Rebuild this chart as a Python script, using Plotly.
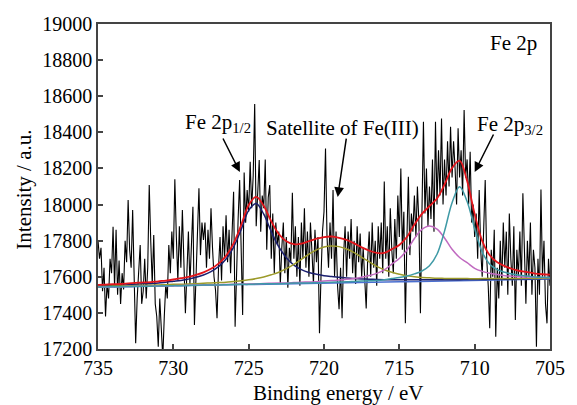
import numpy as np
import plotly.graph_objects as go

# ---- raw XPS counts (735.0 -> 705.0 eV, 0.1 eV step) ----
raw_counts = [
    17800, 17700, 17760, 17520, 17650, 17380, 17560, 17480, 17700, 17620,
    17877, 17540, 17860, 17500, 17690, 17450, 17620, 17530, 17800, 17680,
    18025, 17750, 17650, 17970, 17600, 17232, 17480, 17620, 17776, 17450,
    17520, 17700, 17480, 17650, 18108, 17800, 17560, 17831, 17450, 17380,
    17213, 17480, 17300, 17150, 17380, 17560, 17480, 17776, 17620, 17850,
    17700, 18140, 17820, 17580, 17880, 17650, 17970, 17720, 17398, 17620,
    17850, 17560, 17750, 17988, 17333, 17620, 17800, 18090, 17720, 17900,
    17804, 17900, 17650, 17860, 17700, 17979, 17760, 17600, 17527, 17370,
    17650, 17820, 17580, 17880, 17700, 17940, 17680, 17860, 17620, 17900,
    18071, 17323, 17700, 17920, 18136, 17820, 17388, 18178, 17900, 18080,
    17960, 18237, 17980, 18160, 18557, 17880, 18100, 18247, 17850, 18050,
    17980, 18250, 17750, 18040, 18108, 17700, 17950, 17620, 17900, 17780,
    17850, 17560, 17760, 17900, 17620, 17820, 17540, 17760, 17680, 18066,
    17700, 17880, 17600, 17820, 17550, 17900, 17700, 17980, 17650, 17850,
    17600, 17900, 17740, 17560, 17860, 17680, 17820, 17287, 17600, 17850,
    17960, 18311, 17820, 17650, 17900, 17700, 18080, 17600, 17850, 17550,
    17420, 17650, 17370, 17720, 17880, 17600, 17850, 17700, 17920, 17620,
    17800, 17560, 17880, 17680, 17840, 17600, 17760, 17560, 17425, 17700,
    17850, 17600, 17900, 17650, 17800, 17550, 17880, 17700, 17900, 17620,
    18127, 17700, 17880, 17600, 17980, 17750, 17620, 17920, 17700, 18050,
    17820, 18200, 17750, 17960, 17342, 17800, 18154, 17720, 17950, 17850,
    18050, 17820, 18100, 17900, 17398, 17950, 18459, 17950, 18200, 17880,
    18100, 17920, 18250, 17850, 18459, 18000, 18300, 18050, 18477, 18000,
    18250, 18050, 18350, 18100, 18431, 18150, 18350, 18200, 18000, 18422,
    18150, 18300, 18050, 18524, 18150, 18250, 18000, 18293, 17900, 18000,
    17820, 17950, 17700, 18080, 17750, 17600, 17850, 18136, 17700, 17550,
    17315, 17750, 17600, 17860, 17268, 17650, 17480, 17800, 17550, 17900,
    17650, 17850, 17500, 17950, 17700, 17550, 17880, 17360, 17750, 17600,
    17850, 17550, 18062, 17700, 17450, 17800, 17600, 17900, 17500, 17750,
    17650, 17213, 17700, 17500, 18084, 17600, 17800, 17450, 17342, 17700,
    17550,
]
raw_energy = np.round(735.0 - 0.1 * np.arange(len(raw_counts)), 1)

# ---- fitted curves on 0.5 eV grid (735 -> 705) ----
baseline = [
    17542, 17543, 17544, 17544, 17545, 17546, 17547, 17547, 17548, 17549,
    17550, 17550, 17551, 17552, 17553, 17554, 17554, 17555, 17556, 17557,
    17557, 17558, 17559, 17560, 17560, 17561, 17562, 17563, 17563, 17564,
    17565, 17566, 17567, 17567, 17568, 17569, 17570, 17570, 17571, 17572,
    17573, 17573, 17574, 17575, 17576, 17577, 17577, 17578, 17579, 17580,
    17580, 17581, 17582, 17583, 17583, 17584, 17585, 17586, 17586, 17587,
    17588,
]
# component heights above the baseline
fe2p12 = [
    7, 8, 8, 9, 11, 12, 14, 15, 18, 21,
    25, 30, 36, 45, 57, 75, 102, 143, 208, 304,
    411, 448, 388, 290, 205, 145, 103, 77, 61, 50,
    41, 35, 30, 26, 22, 19, 17, 15, 13, 12,
    11, 10, 9, 8, 7, 7, 6, 6, 5, 5,
    5, 4, 4, 4, 4, 3, 3, 3, 3, 3,
    3,
]
satellite = [
    4, 4, 5, 5, 5, 6, 6, 6, 7, 7,
    8, 9, 9, 10, 11, 12, 14, 15, 18, 21,
    26, 32, 40, 51, 65, 84, 107, 133, 162, 185,
    200, 205, 200, 187, 166, 139, 113, 88, 68, 53,
    41, 32, 26, 21, 18, 15, 14, 12, 11, 10,
    9, 9, 8, 7, 7, 6, 6, 6, 5, 5,
    5,
]
fe3 = [
    1, 1, 1, 1, 1, 1, 1, 1, 1, 1,
    1, 2, 2, 2, 2, 2, 2, 2, 2, 3,
    3, 3, 4, 4, 5, 5, 6, 7, 8, 9,
    11, 13, 15, 19, 23, 29, 37, 49, 67, 98,
    128, 174, 238, 287, 305, 287, 238, 174, 128, 98,
    67, 49, 37, 29, 23, 19, 15, 13, 11, 9,
    8,
]
fe2p32 = [
    1, 1, 1, 1, 1, 1, 1, 1, 1, 1,
    1, 1, 1, 1, 1, 1, 1, 1, 1, 1,
    1, 2, 2, 2, 2, 2, 3, 3, 3, 3,
    3, 4, 4, 5, 6, 7, 8, 10, 13, 18,
    23, 31, 42, 57, 85, 148, 276, 432, 520, 437,
    286, 156, 88, 57, 42, 31, 23, 18, 13, 10,
    8,
]
fit_energy = np.round(735.0 - 0.5 * np.arange(len(baseline)), 1)

base = np.array(baseline, dtype=float)
comps = [
    (fe2p12, "#1b1f6e"),
    (satellite, "#9c9a2a"),
    (fe3, "#c06ac0"),
    (fe2p32, "#3f9aa6"),
]
envelope = base + sum(np.array(c, dtype=float) for c, _ in comps)

FONT = "Liberation Serif"

fig = go.Figure()
fig.add_trace(go.Scatter(x=raw_energy, y=raw_counts, mode="lines",
                         line=dict(color="black", width=1.1), showlegend=False))
fig.add_trace(go.Scatter(x=fit_energy, y=base, mode="lines",
                         line=dict(color="#4a6fd0", width=1.5), showlegend=False))
for c, col in comps:
    fig.add_trace(go.Scatter(x=fit_energy, y=base + np.array(c, dtype=float), mode="lines",
                             line=dict(color=col, width=1.5, shape="spline"),
                             showlegend=False))
fig.add_trace(go.Scatter(x=fit_energy, y=envelope, mode="lines",
                         line=dict(color="#e3151b", width=1.8, shape="spline"),
                         showlegend=False))

axis_common = dict(showline=True, mirror=True, linecolor="#444444", linewidth=1.5,
                   ticks="inside", ticklen=5, tickwidth=1.5, tickcolor="#444444",
                   showgrid=False, zeroline=False,
                   tickfont=dict(family=FONT, size=20, color="black"))
fig.update_xaxes(range=[735, 705], tickvals=[735, 730, 725, 720, 715, 710, 705],
                 **axis_common)
fig.update_yaxes(range=[17200, 19000], dtick=200, tickformat="d", **axis_common)

def px2x(px):
    return 735 - (px - 98) / 15.4

def py2y(py):
    return 17200 + (349 - py) * 5.538

ann = []
# arrows
for tail, head in [((225, 137), (243, 172)), ((352, 137), (343, 197)), ((503, 133), (483, 172))]:
    ann.append(dict(x=px2x(head[0]), y=py2y(head[1]), ax=px2x(tail[0]), ay=py2y(tail[1]),
                    xref="x", yref="y", axref="x", ayref="y", text="", showarrow=True,
                    arrowhead=2, arrowsize=1.3, arrowwidth=1.5, arrowcolor="black"))
# labels
tf = dict(family=FONT, size=21, color="black")
ann.append(dict(x=px2x(185), y=py2y(123), xref="x", yref="y", xanchor="left", yanchor="middle",
                text="Fe 2p<sub>1/2</sub>", showarrow=False, font=tf))
ann.append(dict(x=px2x(268), y=py2y(128), xref="x", yref="y", xanchor="left", yanchor="middle",
                text="Satellite of Fe(III)", showarrow=False, font=tf))
ann.append(dict(x=px2x(483), y=py2y(125), xref="x", yref="y", xanchor="left", yanchor="middle",
                text="Fe 2p<sub>3/2</sub>", showarrow=False, font=tf))
ann.append(dict(x=px2x(497), y=py2y(43), xref="x", yref="y", xanchor="left", yanchor="middle",
                text="Fe 2p", showarrow=False, font=tf))
# axis titles
ann.append(dict(x=(22 - 98) / 462, y=(349 - 190) / 325, xref="paper", yref="paper",
                text="Intensity / a.u.", textangle=-90, showarrow=False,
                xanchor="center", yanchor="middle", font=dict(family=FONT, size=21, color="black")))
ann.append(dict(x=(344 - 98) / 462, y=(349 - 393) / 325, xref="paper", yref="paper",
                text="Binding energy / eV", showarrow=False,
                xanchor="center", yanchor="middle", font=dict(family=FONT, size=21, color="black")))

fig.update_layout(width=577, height=405, margin=dict(l=98, r=17, t=24, b=56),
                  paper_bgcolor="white", plot_bgcolor="white", annotations=ann,
                  font=dict(family=FONT, color="black"), showlegend=False)

fig.write_html("out.html", config={"displayModeBar": False},
               post_script="document.body.style.margin='0px';")
